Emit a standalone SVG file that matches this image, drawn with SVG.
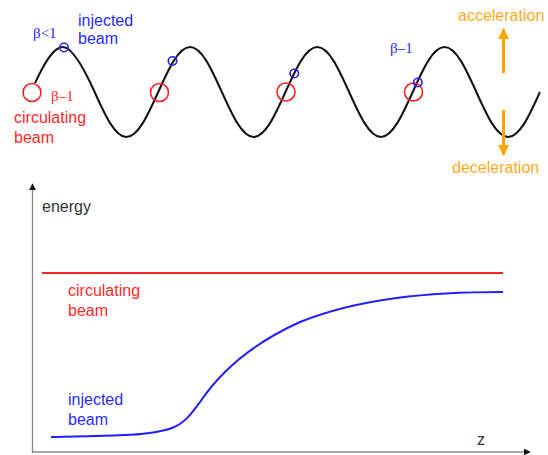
<svg xmlns="http://www.w3.org/2000/svg" width="548" height="455" viewBox="0 0 548 455">
<defs>
<style>
text{font-family:"Liberation Sans",Arial,sans-serif;font-size:16px}
.sym{font-family:"Liberation Serif","Times New Roman",serif;font-size:15px}
.red{fill:#FF2A2A}
.blue{fill:#2A2AFF}
.orange{fill:#FFAA22}
.dark{fill:#333333}
.wave{fill:none;stroke:#111;stroke-width:2}
.rc{fill:none;stroke:#FF2020;stroke-width:1.6}
.bc{fill:none;stroke:#2020FF;stroke-width:1.6}
.axis{fill:none;stroke:#888;stroke-width:1.3}
.oarrow{fill:none;stroke:#FFA500;stroke-width:3}
</style>
<marker id="ah" viewBox="0 0 10 10" refX="9" refY="5" markerWidth="7" markerHeight="7" markerUnits="userSpaceOnUse" orient="auto">
<path d="M0,0 L10,5 L0,10 z" fill="#111"/>
</marker>
<marker id="oh" viewBox="0 0 10 10" refX="9" refY="5" markerWidth="11" markerHeight="11" markerUnits="userSpaceOnUse" orient="auto">
<path d="M0,0 L10,5 L0,10 z" fill="#FFA500"/>
</marker>
</defs>

<g id="wave-panel">
<path class="wave" d="M35,83.2 C44.27,63 53.5,47 62.81,47
 s21.44,21.95 31.81,45 s20.3,45 31.81,45 s21.44,-21.95 31.81,-45 s20.3,-45 31.81,-45
 s21.44,21.95 31.81,45 s20.3,45 31.81,45 s21.44,-21.95 31.81,-45 s20.3,-45 31.81,-45
 s21.44,21.95 31.81,45 s20.3,45 31.81,45 s21.44,-21.95 31.81,-45 s20.3,-45 31.81,-45
 s21.44,21.95 31.81,45 s20.3,45 31.81,45 s21.44,-21.95 31.81,-45"/>
</g>

<g id="circulating-bunches">
<circle class="rc" cx="32" cy="92.5" r="9"/>
<circle class="rc" cx="159.5" cy="92.5" r="9"/>
<circle class="rc" cx="286" cy="92" r="9"/>
<circle class="rc" cx="413.5" cy="92" r="9"/>
</g>

<g id="injected-bunches">
<circle class="bc" cx="64" cy="47.5" r="4.2"/>
<circle class="bc" cx="172.5" cy="61" r="4.2"/>
<circle class="bc" cx="294.3" cy="73.5" r="4.2"/>
<circle class="bc" cx="417.8" cy="82.5" r="4.2"/>
</g>

<g id="top-labels">
<text class="sym blue" x="33" y="38">β&lt;1</text>
<text class="blue" x="78" y="26">injected</text>
<text class="blue" x="78" y="44">beam</text>
<text class="sym red" x="51" y="101">β–1</text>
<text class="red" x="14" y="123">circulating</text>
<text class="red" x="14" y="143">beam</text>
<text class="sym blue" x="390" y="53">β–1</text>
</g>

<g id="acceleration">
<line class="oarrow" x1="503.5" y1="73" x2="503.5" y2="29" marker-end="url(#oh)"/>
<text class="orange" x="458" y="21">acceleration</text>
</g>
<g id="deceleration">
<line class="oarrow" x1="503.5" y1="110" x2="503.5" y2="155" marker-end="url(#oh)"/>
<text class="orange" x="452" y="173">deceleration</text>
</g>

<g id="axes">
<line class="axis" x1="32.5" y1="453" x2="32.5" y2="184" marker-end="url(#ah)"/>
<line class="axis" x1="32" y1="452" x2="530" y2="452" marker-end="url(#ah)"/>
<text class="dark" x="42" y="212">energy</text>
<text class="dark" x="477" y="445">z</text>
</g>

<g id="circulating-energy">
<line x1="42" y1="273" x2="503" y2="273" stroke="#FF2020" stroke-width="2"/>
<text class="red" x="68" y="296">circulating</text>
<text class="red" x="68" y="316">beam</text>
</g>

<g id="injected-energy">
<path d="M51,437 C110,436 150,436 172,428 C185,423 192,413 200,402 C225,365 260,340 300,322 C360,298 430,292 503,292" fill="none" stroke="#2020FF" stroke-width="2"/>
<text class="blue" x="68" y="405">injected</text>
<text class="blue" x="68" y="425">beam</text>
</g>
</svg>
